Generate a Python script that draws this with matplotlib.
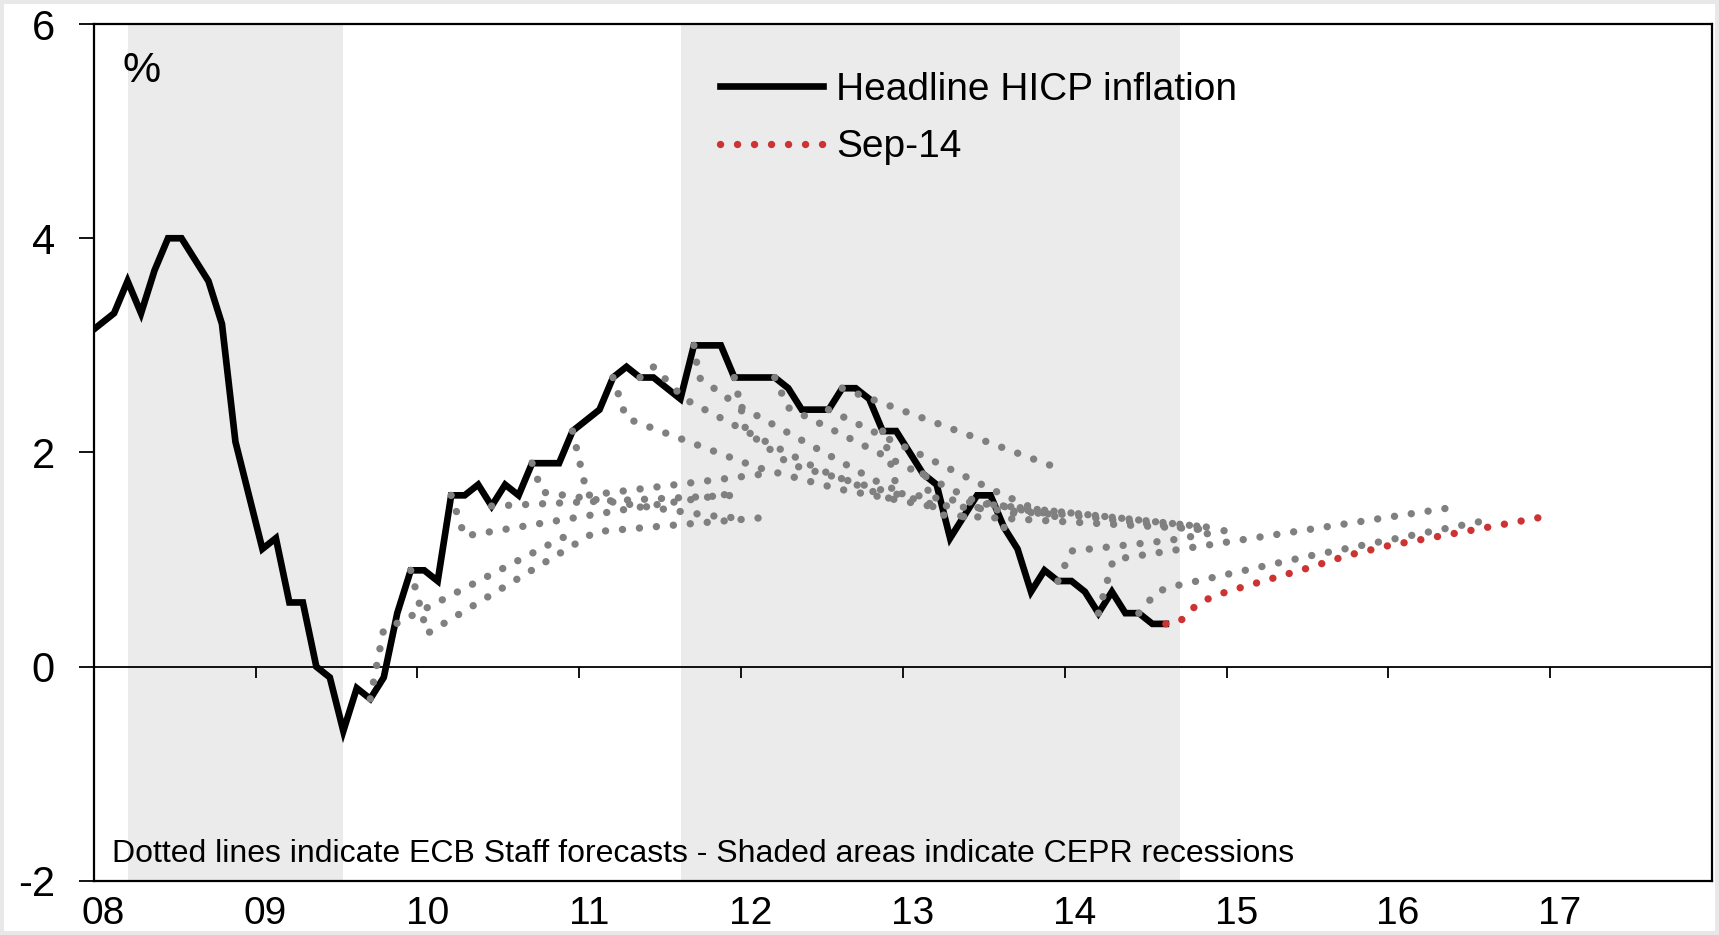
import matplotlib
matplotlib.use('Agg')
import matplotlib.pyplot as plt
import pandas as pd

plt.rcParams['font.family'] = ['Liberation Sans', 'DejaVu Sans']

# ----------------------
# data
# ----------------------
# headline HICP inflation, monthly, Dec 2007 - Aug 2014
hicp = [3.1,
        3.2, 3.3, 3.6, 3.3, 3.7, 4.0, 4.0, 3.8, 3.6, 3.2, 2.1, 1.6,
        1.1, 1.2, 0.6, 0.6, 0.0, -0.1, -0.6, -0.2, -0.3, -0.1, 0.5, 0.9,
        0.9, 0.8, 1.6, 1.6, 1.7, 1.5, 1.7, 1.6, 1.9, 1.9, 1.9, 2.2,
        2.3, 2.4, 2.7, 2.8, 2.7, 2.7, 2.6, 2.5, 3.0, 3.0, 3.0, 2.7,
        2.7, 2.7, 2.7, 2.6, 2.4, 2.4, 2.4, 2.6, 2.6, 2.5, 2.2, 2.2,
        2.0, 1.8, 1.7, 1.2, 1.4, 1.6, 1.6, 1.3, 1.1, 0.7, 0.9, 0.8,
        0.8, 0.7, 0.5, 0.7, 0.5, 0.5, 0.4, 0.4]
months = pd.date_range('2007-12-01', periods=len(hicp), freq='MS')
hicp_t = months.year + (months.month - 0.5) / 12

# ECB staff forecast paths (decimal year, %)
fc_sep09 = [(2009.708, -0.3), (2009.79, 0.34), (2010.85, 1.17), (2010.96, 1.25)]
fc_dec09 = [(2009.958, 0.9), (2010.06, 0.31), (2011.10, 1.26), (2012.20, 1.40)]
fc_mar10 = [(2010.208, 1.6), (2010.29, 1.22), (2011.33, 1.48), (2011.96, 1.62)]
fc_jun10 = [(2010.458, 1.5), (2011.20, 1.55), (2011.96, 1.60)]
fc_sep10 = [(2010.708, 1.9), (2010.77, 1.63), (2011.81, 1.41), (2011.96, 1.39)]
fc_dec10 = [(2010.958, 2.2), (2011.05, 1.60), (2012.20, 1.81)]
fc_mar11 = [(2011.208, 2.7), (2011.29, 2.32), (2012.10, 1.86), (2012.60, 1.66),
            (2013.20, 1.49)]
fc_jun11 = [(2011.375, 2.7), (2011.46, 2.8), (2011.65, 2.5), (2012.47, 1.85), (2013.00, 1.52)]
fc_sep11 = [(2011.708, 3.0), (2011.74, 2.70), (2011.97, 2.45), (2012.85, 1.72), (2013.00, 1.62)]
fc_dec11 = [(2011.958, 2.7), (2012.03, 2.20), (2012.30, 1.89), (2013.20, 1.51), (2013.95, 1.42)]
fc_mar12 = [(2012.208, 2.7), (2012.29, 2.42), (2013.44, 1.55), (2013.95, 1.40)]
fc_jun12 = [(2012.54, 2.4), (2013.57, 1.64), (2013.95, 1.38)]
fc_sep12 = [(2012.625, 2.6), (2013.93, 1.87)]
fc_dec12 = [(2012.875, 2.2), (2012.97, 1.62), (2013.50, 1.52), (2014.90, 1.30)]
fc_mar13 = [(2013.125, 1.8), (2013.20, 1.42), (2014.90, 1.28)]
fc_jun13 = [(2013.375, 1.4), (2013.50, 1.52), (2014.90, 1.30)]
fc_sep13 = [(2013.625, 1.3), (2013.70, 1.47), (2014.90, 1.27)]
fc_dec13 = [(2013.958, 0.8), (2014.04, 1.08), (2014.65, 1.18), (2015.06, 1.29)]
fc_mar14 = [(2014.208, 0.5), (2014.30, 1.00), (2016.45, 1.50)]
fc_jun14 = [(2014.458, 0.5), (2014.57, 0.70), (2014.67, 0.75), (2015.50, 1.03), (2016.65, 1.38)]
fc_sep14 = [(2014.625, 0.40), (2014.71, 0.42), (2014.83, 0.60), (2015.00, 0.70), (2015.25, 0.81),
            (2015.50, 0.92), (2015.75, 1.04), (2016.00, 1.13), (2016.25, 1.20), (2016.50, 1.27),
            (2016.75, 1.34), (2016.96, 1.40)]

gray_forecasts = [fc_sep09, fc_dec09, fc_mar10, fc_jun10, fc_sep10, fc_dec10, fc_mar11,
                  fc_jun11, fc_sep11, fc_dec11, fc_mar12, fc_jun12, fc_sep12, fc_dec12,
                  fc_mar13, fc_jun13, fc_sep13, fc_dec13, fc_mar14, fc_jun14]

recessions = [(2008.21, 2009.54), (2011.63, 2014.71)]
years = list(range(2008, 2018))
year_labels = ['08', '09', '10', '11', '12', '13', '14', '15', '16', '17']
y_ticks = [-2, 0, 2, 4, 6]

# ----------------------
# figure
# ----------------------
fig = plt.figure(figsize=(17.19, 9.35), dpi=100)
fig.patch.set_edgecolor('#e8e8e8')
fig.patch.set_linewidth(4.5)
ax = fig.add_axes([0.0546, 0.0578, 0.9413, 0.9165])

for a, b in recessions:
    ax.axvspan(a, b, color='#ebebeb', lw=0, zorder=0)

ax.plot(hicp_t, hicp, color='black', lw=4.8, solid_joinstyle='miter', zorder=3,
        label='Headline HICP inflation')

dot = dict(lw=5.3, linestyle=(0, (0.01, 2.3)), dash_capstyle='round')
for fc in gray_forecasts:
    xs, ys = zip(*fc)
    ax.plot(xs, ys, color='#808080', zorder=4, **dot)
xs, ys = zip(*fc_sep14)
ax.plot(xs, ys, color='#cc3333', zorder=5, label='Sep-14', **dot)

ax.set_xlim(2008, 2018)
ax.set_ylim(-2, 6)

# x labels sit a bit right of the year boundary, ticks live on the zero line
ax.set_xticks([y + 0.06 for y in years])
ax.set_xticklabels(year_labels, fontsize=28)
ax.tick_params(axis='x', length=0, pad=10.5)
ax.set_yticks(y_ticks)
ax.set_yticklabels([str(v) for v in y_ticks], fontsize=30)
ax.tick_params(axis='y', direction='out', length=11, width=1.3, pad=17)
for s in ax.spines.values():
    s.set_linewidth(1.6)

zero = ax.secondary_xaxis(0.25)
zero.set_xticks(years[1:])
zero.tick_params(axis='x', direction='out', length=8, width=1.3, labelbottom=False, labeltop=False)
zero.spines['bottom'].set_linewidth(1.3)

ax.text(0.018, 0.945, '%', transform=ax.transAxes, fontsize=31, va='center', ha='left')
ax.text(0.011, 0.022, 'Dotted lines indicate ECB Staff forecasts - Shaded areas indicate CEPR recessions',
        transform=ax.transAxes, fontsize=23, va='baseline', ha='left')

ax.legend(loc='upper left', bbox_to_anchor=(0.387, 0.944), frameon=False, fontsize=28,
          handlelength=2.65, handletextpad=0.33, labelspacing=0.55, borderpad=0, borderaxespad=0)

fig.savefig('out.png', dpi=100, facecolor='white')
plt.close()
